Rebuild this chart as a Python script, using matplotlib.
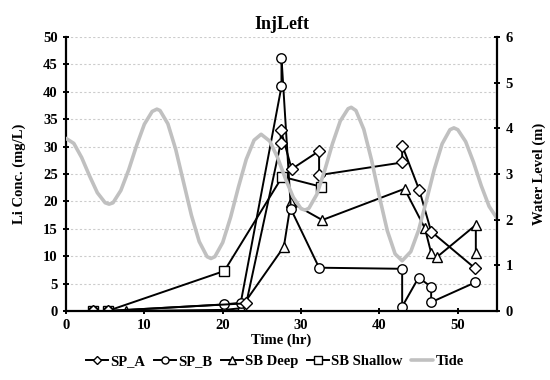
import matplotlib
matplotlib.use("Agg")
import matplotlib.pyplot as plt

# ---- data ----
spa_t = [3.4, 5.3, 23.0, 27.4, 27.4, 28.8, 32.3, 32.3, 42.9, 42.9, 45.1, 46.6, 52.2]
spa_v = [0, 0, 1.4, 30.6, 33.1, 25.9, 29.2, 24.8, 27.1, 30.2, 22.0, 14.5, 7.8]

spb_t = [3.4, 5.3, 20.2, 22.3, 27.5, 27.5, 28.7, 32.3, 42.9, 42.9, 45.0, 46.6, 46.6, 52.2]
spb_v = [0, 0, 1.2, 1.5, 41.0, 46.2, 18.6, 7.9, 7.7, 0.8, 6.1, 4.4, 1.6, 5.2]

sbd_t = [7.7, 20.2, 22.3, 27.8, 28.7, 32.7, 43.2, 45.8, 46.6, 47.3, 52.3, 52.3]
sbd_v = [0, 0.2, 0.5, 11.7, 19.8, 16.6, 22.3, 15.1, 10.6, 9.8, 15.7, 10.5]

sbs_t = [3.4, 5.3, 20.2, 27.6, 32.5]
sbs_v = [0, 0, 7.3, 24.5, 22.7]

tide_t = [0, 1, 2, 3, 4, 5, 5.5, 6, 7, 8, 9, 10, 11, 11.6, 12, 13, 14, 15, 16, 17, 18, 18.5,
          19, 20, 21, 22, 23, 24, 24.9, 26, 27, 28, 29, 30, 30.5, 31, 32, 33, 34, 35, 36, 36.4,
          37, 38, 39, 40, 41, 42, 42.9, 44, 45, 46, 47, 48, 49, 49.5, 50, 51, 52, 53, 54, 55]
tide_v = [3.78, 3.67, 3.36, 2.96, 2.59, 2.37, 2.34, 2.37, 2.64, 3.09, 3.62, 4.09, 4.37, 4.42,
          4.39, 4.10, 3.54, 2.82, 2.10, 1.52, 1.19, 1.15, 1.19, 1.50, 2.05, 2.71, 3.32, 3.74, 3.87,
          3.72, 3.36, 2.90, 2.49, 2.24, 2.21, 2.25, 2.55, 3.07, 3.66, 4.16, 4.43, 4.46, 4.39, 3.98,
          3.30, 2.50, 1.76, 1.25, 1.10, 1.30, 1.77, 2.42, 3.10, 3.66, 3.97, 4.01, 3.97, 3.71, 3.26,
          2.74, 2.29, 2.03]

x_ticks = [0, 10, 20, 30, 40, 50]
left_ticks = [0, 5, 10, 15, 20, 25, 30, 35, 40, 45, 50]
right_ticks = [0, 1, 2, 3, 4, 5, 6]

plt.rcParams['font.family'] = ['Liberation Serif', 'DejaVu Serif']
plt.rcParams['font.weight'] = 'bold'

fig = plt.figure(figsize=(5.5, 3.8), dpi=100)
ax = fig.add_axes([0.12, 0.1816, 0.7836, 0.721])
ax2 = ax.twinx()

ms = 6.8
common = dict(color='black', lw=1.4, mfc='white', mec='black', mew=1.0)
ax.plot(sbs_t, sbs_v, marker='s', ms=ms, label='SB Shallow', **common)
ax.plot(sbd_t, sbd_v, marker='^', ms=ms + 0.6, label='SB Deep', **common)
ax.plot(spb_t, spb_v, marker='o', ms=ms, label='SP_B', **common)
ax.plot(spa_t, spa_v, marker='D', ms=ms - 1, label='SP_A', **common)
ax2.plot(tide_t, tide_v, color='#c0c0c0', lw=2.6, label='Tide', solid_capstyle='round',
         solid_joinstyle='round')

ax.set_xlim(0, 55)
ax.set_ylim(0, 50)
ax2.set_ylim(0, 6)
ax.set_xticks(x_ticks)
ax.set_yticks(left_ticks)
ax2.set_yticks(right_ticks)

ax.yaxis.grid(True, color='#cccccc', ls=(0, (2, 2)), lw=0.8)
ax.set_axisbelow(True)

for a in (ax, ax2):
    a.spines['top'].set_visible(False)
    for s in ('left', 'right', 'bottom'):
        a.spines[s].set_linewidth(1.6)
    a.tick_params(direction='inout', length=5, width=1.4, labelsize=10.5)
ax2.spines['left'].set_visible(False)
ax2.spines['bottom'].set_visible(False)
ax.spines['right'].set_visible(False)

for lab in ax.get_xticklabels() + ax.get_yticklabels() + ax2.get_yticklabels():
    lab.set_fontweight('bold')

ax.set_xlabel('Time (hr)', fontsize=10.5, fontweight='bold', labelpad=1)
ax.set_ylabel('Li Conc. (mg/L)', fontsize=10.5, fontweight='bold', labelpad=12)
ax2.set_ylabel('Water Level (m)', fontsize=10.5, fontweight='bold', labelpad=14)
ax.set_title('InjLeft', fontsize=13, fontweight='bold', pad=6)

h1, l1 = ax.get_legend_handles_labels()
h2, l2 = ax2.get_legend_handles_labels()
order = ['SP_A', 'SP_B', 'SB Deep', 'SB Shallow']
hs = [h1[l1.index(o)] for o in order] + h2
ls = order + l2
fig.legend(hs, ls, loc='center', bbox_to_anchor=(0.5, 0.048), ncol=5, frameon=False,
           handlelength=1.5, handletextpad=0.15, columnspacing=0.6, markerscale=0.75,
           prop={'weight': 'bold', 'size': 10.5})

fig.savefig('out.png', dpi=100)
